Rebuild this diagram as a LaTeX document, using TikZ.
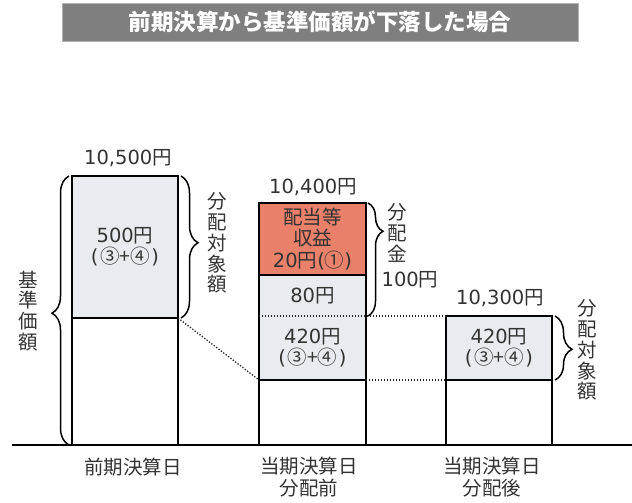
\documentclass[tikz,border=0pt]{standalone}
\usepackage{fontspec}
\setmainfont{Noto Sans CJK JP}
\newfontfamily\dvfont{DejaVu Sans}
\newcommand\numf[1]{{\dvfont #1}}
\newcommand\cparen[1]{\numf{(}\hspace{1.5pt}#1\hspace{1.5pt}\numf{)}}
\usetikzlibrary{decorations.pathreplacing,calc}
\definecolor{txt}{HTML}{333333}
\definecolor{lightfill}{HTML}{E8ECF0}
\definecolor{redfill}{HTML}{E8806A}
\definecolor{titlefill}{HTML}{7F7F7F}
\tikzset{
  seg/.style={inner sep=0pt, outer sep=0pt, align=center, text=txt, font=\fontsize{19.5}{21.5}\selectfont},
  barline/.style={line width=2pt, draw=black},
  dotline/.style={line width=1.3pt, dash pattern=on 1.3pt off 1.7pt, draw=black!85},
  bracestyle/.style={line width=1.5pt, draw=black, decorate},
  lab/.style={inner sep=0pt, text=txt, font=\fontsize{19.5}{21.5}\selectfont, align=center},
  vlab/.style={inner sep=0pt, text=txt, font=\fontsize{19.5}{20.8}\selectfont, align=center},
}
\begin{document}
\begin{tikzpicture}[x=1pt, y=-1pt]
\useasboundingbox (0,0) rectangle (632,503);
% title
\node[fill=titlefill, draw=black!30, line width=0.6pt, minimum width=516pt, minimum height=38pt, inner sep=0pt,
      text=white, font=\fontsize{22.5}{24}\bfseries\selectfont] (title) at (320,22) {前期決算から基準価額が下落した場合};
% left bar
\node[seg, fill=lightfill, minimum width=106pt, minimum height=142pt] (L1) at (125,247) {\numf{500}円\\\cparen{③+④}};
\node[seg, minimum width=106pt, minimum height=127pt] (L2) at (125,381.5) {};
% middle bar
\node[seg, fill=redfill, minimum width=107pt, minimum height=72pt] (M1) at (312.5,239) {配当等\\収益\\\numf{20}円\numf{(}①\numf{)}};
\node[seg, fill=lightfill, minimum width=107pt, minimum height=41pt] (M2) at (312.5,295.5) {\numf{80}円};
\node[seg, fill=lightfill, minimum width=107pt, minimum height=64pt] (M3) at (312.5,348) {\numf{420}円\\\cparen{③+④}};
\node[seg, minimum width=107pt, minimum height=65pt] (M4) at (312.5,412.5) {};
% right bar
\node[seg, fill=lightfill, minimum width=106pt, minimum height=64pt] (R1) at (499,348) {\numf{420}円\\\cparen{③+④}};
\node[seg, minimum width=106pt, minimum height=65pt] (R2) at (499,412.5) {};
% outlines
\draw[barline] (L1.north west) rectangle (L2.south east);
\draw[barline] (L1.south west) -- (L1.south east);
\draw[barline] (M1.north west) rectangle (M4.south east);
\draw[barline] (M1.south west) -- (M1.south east);
\draw[barline] (M4.north west) -- (M4.north east);
\draw[barline] (R1.north west) rectangle (R2.south east);
\draw[barline] (R1.south west) -- (R1.south east);
% dotted connectors
\draw[dotline] (M3.north west) -- (R1.north west);
\draw[dotline] (M4.north east) -- (R2.north west);
\draw[dotline] (L2.north east) -- (M4.north west);
% baseline
\coordinate (b0) at (12,445);
\coordinate (b1) at (632,445);
\draw[line width=2.2pt] (b0) -- (b1);
% braces
\draw[bracestyle, decoration={brace, amplitude=17pt, aspect=0.49}] ($(L2.south west)+(-3,0)$) -- ($(L1.north west)+(-3,0)$);
\draw[bracestyle, decoration={brace, amplitude=17pt, aspect=0.47}] ($(L1.north east)+(3,0)$) -- ($(L1.south east)+(3,0)$);
\draw[bracestyle, decoration={brace, amplitude=15pt, aspect=0.25}] ($(M1.north east)+(2,0)$) -- ($(M3.north east)+(2,0)$);
\draw[bracestyle, decoration={brace, amplitude=17pt, aspect=0.52}] ($(R1.north east)+(3,0)$) -- ($(R1.south east)+(3,0)$);
% labels
\node[lab] (t1) at (128,158) {\numf{10,500}円};
\node[lab] (t2) at (313,187) {\numf{10,400}円};
\node[lab] (t3) at (500,298) {\numf{10,300}円};
\node[vlab] (v0) at (28,311) {基\\準\\価\\額};
\node[vlab] (v1) at (217,243) {分\\配\\対\\象\\額};
\node[vlab] (v2) at (397,233) {分\\配\\金};
\node[lab] (v2b) at (410,280) {\numf{100}円};
\node[vlab] (v3) at (587,350) {分\\配\\対\\象\\額};
\node[lab] (x1) at (133,467) {前期決算日};
\node[lab] (x2) at (309,477) {当期決算日\\分配前};
\node[lab] (x3) at (492,477) {当期決算日\\分配後};
\end{tikzpicture}
\end{document}
